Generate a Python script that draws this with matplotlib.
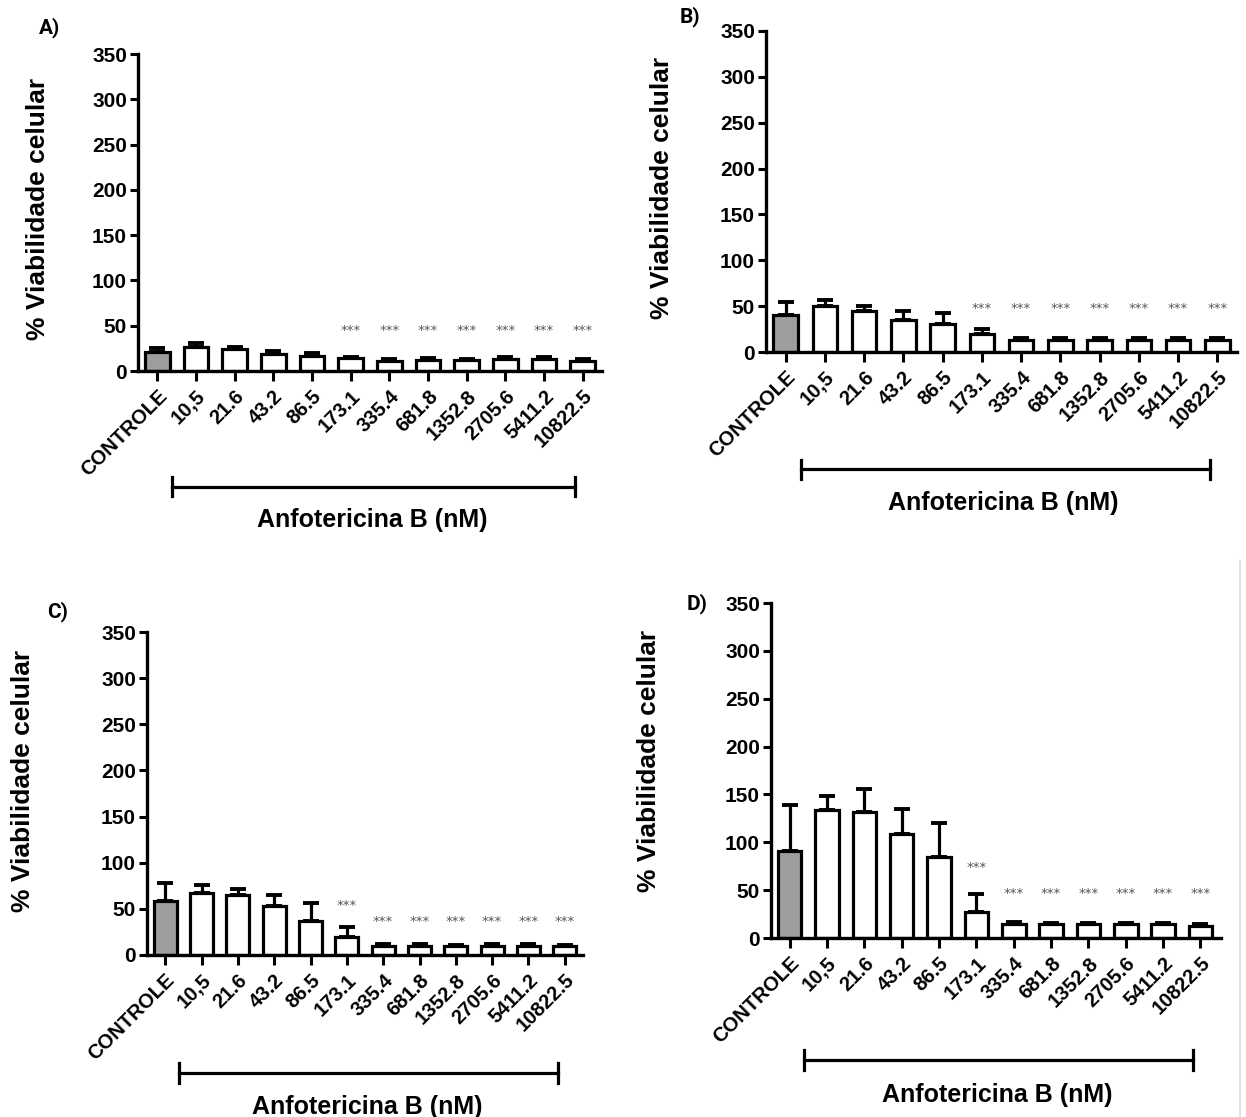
import matplotlib.pyplot as plt
import matplotlib.transforms as mtransforms
from matplotlib.lines import Line2D

plt.rcParams["font.family"] = ["Liberation Sans", "DejaVu Sans"]
plt.rcParams["font.weight"] = "bold"

W, H = 1246, 1117

labels = ["CONTROLE", "10,5", "21.6", "43.2", "86.5", "173.1", "335.4",
          "681.8", "1352.8", "2705.6", "5411.2", "10822.5"]

# panel A
means_a = [21, 26, 24, 19, 17, 14, 11, 12, 12, 13, 13, 11]
err_a = [4, 5, 2, 3, 3, 2, 2, 2, 1, 2, 2, 2]
stars_a = [None, None, None, None, None, 45, 45, 45, 45, 45, 45, 45]

# panel B
means_b = [40, 50, 45, 35, 31, 20, 13, 13, 13, 13, 13, 13]
err_b = [15, 7, 5, 9.5, 12, 5.5, 2, 2, 2, 2, 2, 2]
stars_b = [None, None, None, None, None, 47, 47, 47, 47, 47, 47, 47]

# panel C
means_c = [58, 67, 65, 53, 37, 20, 10, 10, 9.5, 10, 10, 9.5]
err_c = [20, 9, 7, 12, 19, 10, 1.5, 1.5, 1, 1.5, 1.5, 1]
stars_c = [None, None, None, None, None, 54, 36, 36, 36, 36, 36, 36]

# panel D
means_d = [91, 134, 132, 109, 85, 27, 15, 14.5, 14.5, 14.5, 14.5, 13]
err_d = [48, 14, 24, 26, 35, 19, 2, 1, 1, 1, 1, 1.5]
stars_d = [None, None, None, None, None, 74, 46, 46, 46, 46, 46, 46]

fig = plt.figure(figsize=(W / 100, H / 100), dpi=100)


def add_panel(box, letter, letter_xy, ylab_pos, means, errs, stars, xmax):
    left, right, top, bottom = box
    ax = fig.add_axes([left / W, 1 - bottom / H, (right - left) / W, (bottom - top) / H])
    x = list(range(len(labels)))
    colors = ["#9e9e9e"] + ["white"] * (len(labels) - 1)

    ax.errorbar(x, means, yerr=[[0] * len(errs), errs], fmt="none",
                ecolor="black", elinewidth=2.3, capsize=5.5, capthick=2.8, zorder=1)
    ax.bar(x, means, width=0.63, color=colors, edgecolor="black",
           linewidth=2.3, zorder=2)

    for xi, sy in zip(x, stars):
        if sy is not None:
            ax.text(xi, sy, "***", ha="center", va="center", fontsize=9.5,
                    color="#555555", family="DejaVu Sans", fontweight="normal")

    ax.set_ylim(0, 350)
    ax.set_xlim(-0.5, xmax)
    ax.set_yticks(range(0, 351, 50))
    ax.set_xticks(x)
    ax.set_xticklabels(labels, rotation=45, ha="right", rotation_mode="anchor")
    ax.tick_params(axis="x", length=7, width=2.2, pad=4, labelsize=14.5)
    ax.tick_params(axis="y", length=6, width=2.2, pad=2, labelsize=15)
    for s in ["top", "right"]:
        ax.spines[s].set_visible(False)
    for s in ["left", "bottom"]:
        ax.spines[s].set_linewidth(2.4)

    ax.set_ylabel("% Viabilidade celular", fontsize=19, fontweight="bold")
    ax.yaxis.set_label_coords(-ylab_pos[0] / (right - left), ylab_pos[1])

    trans = mtransforms.blended_transform_factory(ax.transData, ax.transAxes)
    yb = -0.365
    ax.plot([0.38, 10.8], [yb, yb], color="black", lw=2.3, transform=trans, clip_on=False)
    for xe in [0.38, 10.8]:
        ax.plot([xe, xe], [yb - 0.03, yb + 0.03], color="black", lw=2.3,
                transform=trans, clip_on=False)
    ax.text(5.55, -0.47, "Anfotericina B (nM)", ha="center", va="center",
            fontsize=18, fontweight="bold", transform=trans)

    fig.text(letter_xy[0] / W, 1 - letter_xy[1] / H, letter, fontsize=15,
             fontweight="bold", family=["Roboto", "DejaVu Sans"],
             ha="center", va="center")
    return ax


add_panel((138, 602, 54, 371), "A)", (50, 28), (88, 0.51), means_a, err_a, stars_a, 11.5)
add_panel((766, 1237, 31, 352), "B)", (690, 17), (92, 0.51), means_b, err_b, stars_b, 11.5)
add_panel((147, 583, 632, 955), "C)", (58, 612), (112, 0.54), means_c, err_c, stars_c, 11.5)
add_panel((771, 1221, 603, 938), "D)", (697, 604), (110, 0.53), means_d, err_d, stars_d, 11.55)

# faint frame line at the right edge of the lower half
fig.add_artist(Line2D([1240 / W, 1240 / W], [0, 1 - 560 / H], color="#dddddd", lw=1.2))

fig.savefig("out.png", dpi=100)
